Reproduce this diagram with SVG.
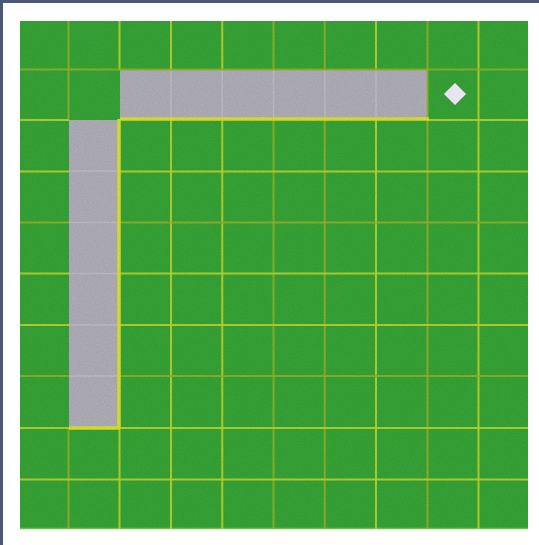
<svg xmlns="http://www.w3.org/2000/svg" width="539" height="545" viewBox="0 0 539 545">
  <defs>
    <style>
      .frame { fill: #4b5a70; }
      .field { fill: #37a737; }
      .ln { stroke: #c2da2c; stroke-width: 2; opacity: 0.9; }
      .ln-dim { stroke: #9cb628; stroke-width: 2; opacity: 0.85; }
      .road { fill: #b3b1bd; }
      .road-ln { stroke: #cfcfd8; stroke-width: 1.5; opacity: 0.55; }
      .edge { stroke: #e0e62a; stroke-width: 3.5; }
      .gem { fill: #e8e4f0; stroke: #b0b0b8; stroke-width: 1; }
    </style>
    <filter id="noise" x="0" y="0" width="100%" height="100%">
      <feTurbulence type="fractalNoise" baseFrequency="0.9" numOctaves="2" seed="3" result="n"/>
      <feColorMatrix type="matrix" values="0 0 0 0 0  0 0 0 0 0  0 0 0 0 0  0 0 0 0.12 0" in="n"/>
      <feComposite operator="in" in2="SourceGraphic"/>
    </filter>
  </defs>

  <rect x="0" y="0" width="539" height="545" fill="#ffffff"/>
  <rect class="frame" x="0" y="0" width="539" height="3"/>
  <rect class="frame" x="0" y="0" width="3" height="545"/>

  <g id="field">
    <rect class="field" x="20" y="21" width="508" height="508"/>
    <line x1="20" y1="528.5" x2="528" y2="528.5" stroke="#72cc4e" stroke-width="1.5"/>
  </g>

  <g id="road">
    <rect class="road" x="120" y="70" width="308" height="50"/>
    <rect class="road" x="69" y="120" width="51" height="308"/>
    <line class="road-ln" x1="171" y1="70" x2="171" y2="118"/>
    <line class="road-ln" x1="222.25" y1="70" x2="222.25" y2="118"/>
    <line class="road-ln" x1="273.5" y1="70" x2="273.5" y2="118"/>
    <line class="road-ln" x1="324.75" y1="70" x2="324.75" y2="118"/>
    <line class="road-ln" x1="376" y1="70" x2="376" y2="118"/>
    <line class="road-ln" x1="69" y1="171" x2="118" y2="171"/>
    <line class="road-ln" x1="69" y1="222.5" x2="118" y2="222.5"/>
    <line class="road-ln" x1="69" y1="273.5" x2="118" y2="273.5"/>
    <line class="road-ln" x1="69" y1="325" x2="118" y2="325"/>
    <line class="road-ln" x1="69" y1="376" x2="118" y2="376"/>
  </g>

  <g id="grid">
    <line class="ln-dim" x1="68.5" y1="21" x2="68.5" y2="120"/>
    <line class="ln-dim" x1="68.5" y1="428" x2="68.5" y2="529"/>
    <line class="ln" x1="119.5" y1="21" x2="119.5" y2="70"/>
    <line class="ln" x1="119.5" y1="428" x2="119.5" y2="529"/>
    <line class="ln" x1="171" y1="120" x2="171" y2="529"/>
    <line class="ln" x1="171" y1="21" x2="171" y2="70"/>
    <line class="ln" x1="222.25" y1="120" x2="222.25" y2="529"/>
    <line class="ln" x1="222.25" y1="21" x2="222.25" y2="70"/>
    <line class="ln-dim" x1="273.5" y1="120" x2="273.5" y2="529"/>
    <line class="ln-dim" x1="273.5" y1="21" x2="273.5" y2="70"/>
    <line class="ln-dim" x1="324.75" y1="120" x2="324.75" y2="529"/>
    <line class="ln-dim" x1="324.75" y1="21" x2="324.75" y2="70"/>
    <line class="ln" x1="376" y1="120" x2="376" y2="529"/>
    <line class="ln" x1="376" y1="21" x2="376" y2="70"/>
    <line class="ln-dim" x1="427.5" y1="21" x2="427.5" y2="529"/>
    <line class="ln" x1="478.5" y1="21" x2="478.5" y2="529"/>

    <line class="ln-dim" x1="20" y1="69.5" x2="528" y2="69.5"/>
    <line class="ln" x1="20" y1="120" x2="69" y2="120"/>
    <line class="ln" x1="428" y1="120" x2="528" y2="120"/>
    <line class="ln" x1="20" y1="171.5" x2="69" y2="171.5"/>
    <line class="ln" x1="120" y1="171.5" x2="528" y2="171.5"/>
    <line class="ln-dim" x1="20" y1="222.5" x2="69" y2="222.5"/>
    <line class="ln-dim" x1="120" y1="222.5" x2="528" y2="222.5"/>
    <line class="ln" x1="20" y1="273.5" x2="69" y2="273.5"/>
    <line class="ln" x1="120" y1="273.5" x2="528" y2="273.5"/>
    <line class="ln" x1="20" y1="325" x2="69" y2="325"/>
    <line class="ln" x1="120" y1="325" x2="528" y2="325"/>
    <line class="ln-dim" x1="20" y1="376" x2="69" y2="376"/>
    <line class="ln-dim" x1="120" y1="376" x2="528" y2="376"/>
    <line class="ln" x1="20" y1="428" x2="528" y2="428"/>
    <line class="ln" x1="20" y1="479.5" x2="528" y2="479.5"/>
  </g>

  <g id="road-edges">
    <line class="edge" x1="120" y1="119" x2="429" y2="119"/>
    <line class="edge" x1="119" y1="119" x2="119" y2="429"/>
    <line class="edge" x1="69" y1="428" x2="120" y2="428"/>
  </g>

  <rect x="20" y="21" width="508" height="508" fill="#ffffff" filter="url(#noise)"/>

  <g id="marker">
    <polygon class="gem" points="455,83 466,94 455,105 444,94"/>
  </g>
</svg>
